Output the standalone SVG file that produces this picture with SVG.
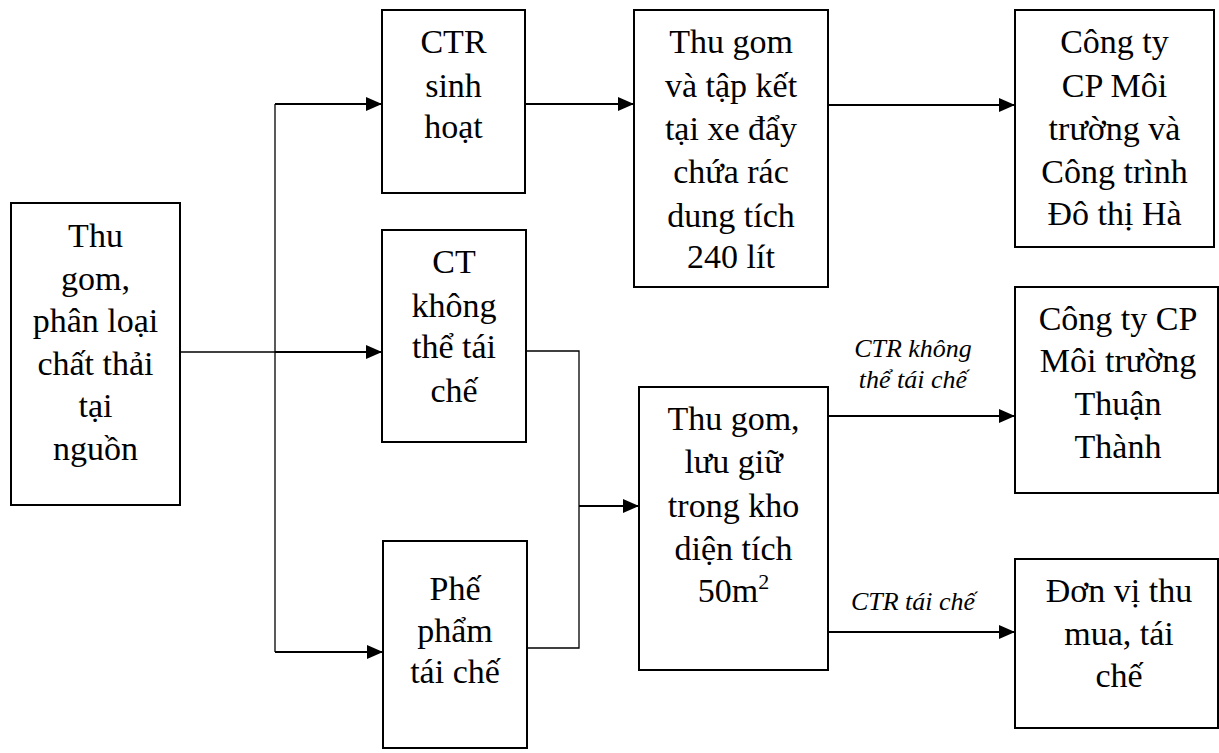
<svg xmlns="http://www.w3.org/2000/svg" width="1219" height="753" viewBox="0 0 1219 753">
<style>
.box{fill:#fff;stroke:#000;stroke-width:2}
.t{font-family:"Liberation Serif","Times New Roman",serif;font-size:34px;fill:#000;text-anchor:middle}
.lab{font-family:"Liberation Serif","Times New Roman",serif;font-size:26px;font-style:italic;fill:#000;text-anchor:middle}
.thin{fill:none;stroke:#000;stroke-width:1.3}
.thick{fill:none;stroke:#000;stroke-width:2.2}
</style>
<defs>
<marker id="ah" viewBox="0 0 16 14" refX="16" refY="7" markerWidth="16" markerHeight="14" markerUnits="userSpaceOnUse" orient="auto">
<path d="M0,0 L16,7 L0,14 Z" fill="#000"/>
</marker>
</defs>
<g id="connectors">
<path class="thin" d="M180,352 H275"/>
<path class="thin" d="M275,104 V652"/>
<path class="thick" d="M275,104 H382" marker-end="url(#ah)"/>
<path class="thick" d="M275,352 H382" marker-end="url(#ah)"/>
<path class="thick" d="M275,652 H383" marker-end="url(#ah)"/>
<path class="thick" d="M525,104 H634" marker-end="url(#ah)"/>
<path class="thick" d="M828,105 H1015" marker-end="url(#ah)"/>
<path class="thin" d="M526,351 H579 V648 H527"/>
<path class="thick" d="M579,506 H639" marker-end="url(#ah)"/>
<path class="thick" d="M828,416 H1015" marker-end="url(#ah)"/>
<path class="thick" d="M828,632 H1015" marker-end="url(#ah)"/>
<text class="lab" x="913" y="357">CTR không</text>
<text class="lab" x="913" y="388">thể tái chế</text>
<text class="lab" x="913" y="610">CTR tái chế</text>
</g>
<g id="source">
<rect class="box" x="11" y="203" width="169" height="302"/>
<text class="t" x="95.5" y="247">Thu</text>
<text class="t" x="95.5" y="290">gom,</text>
<text class="t" x="95.5" y="332">phân loại</text>
<text class="t" x="95.5" y="375">chất thải</text>
<text class="t" x="95.5" y="417">tại</text>
<text class="t" x="95.5" y="460">nguồn</text>
</g>
<g id="ctr-sinh-hoat">
<rect class="box" x="382" y="10" width="143" height="183"/>
<text class="t" x="453.5" y="53">CTR</text>
<text class="t" x="453.5" y="97">sinh</text>
<text class="t" x="453.5" y="138">hoạt</text>
</g>
<g id="ct-khong-tai-che">
<rect class="box" x="382" y="230" width="144" height="212"/>
<text class="t" x="454" y="273">CT</text>
<text class="t" x="454" y="317">không</text>
<text class="t" x="454" y="358">thể tái</text>
<text class="t" x="454" y="402">chế</text>
</g>
<g id="phe-pham">
<rect class="box" x="383" y="541" width="144" height="207"/>
<text class="t" x="455" y="600">Phế</text>
<text class="t" x="455" y="642">phẩm</text>
<text class="t" x="455" y="683">tái chế</text>
</g>
<g id="thu-gom-xe-day">
<rect class="box" x="634" y="10" width="194" height="277"/>
<text class="t" x="731" y="53">Thu gom</text>
<text class="t" x="731" y="97">và tập kết</text>
<text class="t" x="731" y="140">tại xe đẩy</text>
<text class="t" x="731" y="183">chứa rác</text>
<text class="t" x="731" y="227">dung tích</text>
<text class="t" x="731" y="268">240 lít</text>
</g>
<g id="kho">
<rect class="box" x="639" y="387" width="189" height="283"/>
<text class="t" x="733.5" y="430">Thu gom,</text>
<text class="t" x="733.5" y="473">lưu giữ</text>
<text class="t" x="733.5" y="517">trong kho</text>
<text class="t" x="733.5" y="560">diện tích</text>
<text class="t" x="733.5" y="602">50m<tspan font-size="22" dy="-13">2</tspan></text>
</g>
<g id="cty-ha">
<rect class="box" x="1015" y="10" width="199" height="237"/>
<text class="t" x="1114.5" y="53">Công ty</text>
<text class="t" x="1114.5" y="97">CP Môi</text>
<text class="t" x="1114.5" y="140">trường và</text>
<text class="t" x="1114.5" y="183">Công trình</text>
<text class="t" x="1114.5" y="225">Đô thị Hà</text>
</g>
<g id="cty-thuan-thanh">
<rect class="box" x="1015" y="287" width="203" height="206"/>
<text class="t" x="1118" y="330">Công ty CP</text>
<text class="t" x="1118" y="372">Môi trường</text>
<text class="t" x="1118" y="415">Thuận</text>
<text class="t" x="1118" y="458">Thành</text>
</g>
<g id="don-vi-thu-mua">
<rect class="box" x="1015" y="559" width="203" height="169"/>
<text class="t" x="1119" y="602">Đơn vị thu</text>
<text class="t" x="1119" y="645">mua, tái</text>
<text class="t" x="1119" y="687">chế</text>
</g>
</svg>
